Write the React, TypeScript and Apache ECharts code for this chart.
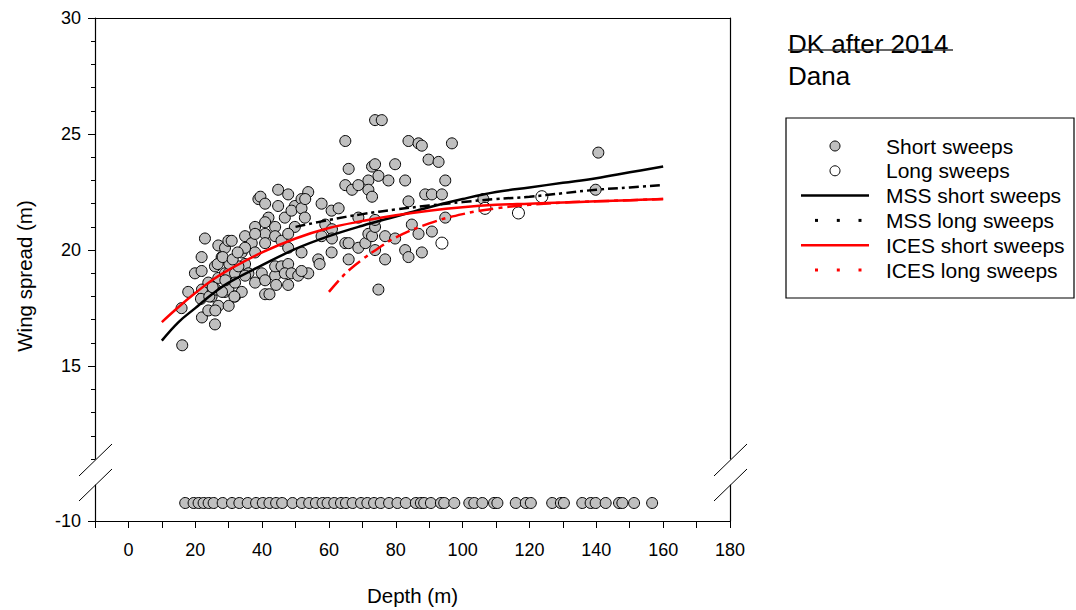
import React, { useEffect, useRef } from 'react';
import * as echarts from 'echarts';

const FONT = '"Liberation Sans", Arial, Helvetica, sans-serif';

// Tick labels
const xTickLabels = [0, 20, 40, 60, 80, 100, 120, 140, 160, 180];
const yMajorTicks = [15, 20, 25, 30];
const yLowerTicks = [-10];

// Short sweeps: [depth (m), wing spread (m)]
const shortSweeps: [number, number][] = [
  [16.1, 15.9], [15.9, 17.5], [17.9, 18.2], [19.9, 19.0], [21.9, 19.1], [21.9, 19.7], [22.9, 20.5],
  [22.0, 17.1], [23.9, 17.4], [25.9, 16.8], [26.9, 17.6], [30.0, 17.6], [26.0, 17.4], [22.0, 18.3],
  [23.9, 18.6], [24.9, 18.0], [25.9, 19.3], [26.9, 20.2], [27.9, 19.7], [28.9, 20.1], [29.9, 20.4],
  [30.9, 20.4], [28.9, 18.2], [29.9, 18.3], [31.9, 18.0], [33.9, 18.2], [26.9, 18.8], [28.9, 19.0],
  [30.0, 19.0], [31.9, 19.0], [33.9, 19.9], [34.9, 20.6], [36.9, 20.3], [37.9, 21.0], [38.9, 22.2],
  [39.5, 22.3], [40.9, 22.0], [44.8, 22.6], [44.8, 21.9], [47.8, 22.4], [49.8, 21.9], [51.8, 22.2],
  [53.8, 22.5], [57.8, 22.0], [60.8, 21.7], [41.9, 21.4], [40.9, 21.2], [43.9, 21.0], [46.8, 21.4],
  [48.8, 21.7], [51.8, 21.8], [52.8, 21.4], [49.8, 21.0], [40.9, 20.7], [43.9, 20.6], [40.9, 20.3],
  [45.8, 20.4], [47.8, 20.7], [47.8, 20.1], [37.9, 19.9], [34.9, 19.4], [35.9, 19.0], [37.9, 18.6],
  [39.9, 19.0], [40.9, 18.7], [43.9, 18.9], [43.9, 19.3], [45.8, 19.3], [47.8, 19.4], [46.8, 19.0],
  [48.8, 19.0], [50.8, 18.9], [53.8, 19.0], [51.8, 19.1], [40.9, 18.1], [47.8, 18.5], [44.2, 18.5],
  [51.8, 19.9], [56.8, 19.6], [57.2, 19.4], [60.8, 19.9], [57.8, 20.6], [34.9, 18.9], [32.9, 19.3],
  [31.9, 18.6], [37.9, 20.7], [34.9, 20.1], [21.7, 17.9], [24.2, 18.0], [26.2, 18.3], [28.0, 18.2],
  [31.7, 18.0], [25.2, 18.4], [29.0, 18.7], [30.2, 19.4], [26.7, 19.4], [28.2, 19.7], [31.2, 19.6],
  [32.7, 19.9], [52.9, 22.2], [62.9, 21.8], [58.9, 21.1], [60.9, 20.9], [60.9, 20.5], [42.2, 18.1],
  [64.9, 24.7], [65.9, 23.5], [72.9, 23.6], [73.8, 23.7], [74.8, 23.2], [71.8, 23.0], [77.8, 23.0],
  [79.8, 23.7], [64.9, 22.8], [66.9, 22.6], [68.8, 22.8], [71.8, 22.6], [72.9, 22.3], [68.8, 21.4],
  [64.9, 20.3], [65.9, 20.3], [68.8, 20.1], [70.9, 20.3], [71.8, 20.7], [72.9, 20.6], [73.8, 21.0],
  [73.8, 21.3], [73.8, 20.0], [76.8, 20.6], [79.8, 20.5], [65.9, 19.6], [76.8, 19.6], [74.8, 18.3],
  [73.8, 25.6], [75.8, 25.6], [83.8, 24.7], [86.8, 24.6], [87.8, 24.5], [96.8, 24.6], [89.8, 23.9],
  [92.8, 23.8], [82.8, 23.0], [94.8, 23.0], [88.8, 22.4], [90.8, 22.4], [93.8, 22.4], [83.8, 22.1],
  [94.8, 21.4], [84.8, 21.1], [86.8, 20.7], [90.8, 20.8], [82.8, 20.0], [83.8, 19.7], [87.8, 19.9],
  [106.2, 22.2], [139.8, 22.6], [140.6, 24.2],
];

// Long sweeps: [depth (m), wing spread (m)]
const longSweeps: [number, number][] = [
  [93.8, 20.3], [106.7, 21.8], [116.7, 21.6], [123.7, 22.3],
];

// Tows with depth only (plotted in the lower, broken-axis strip)
const depthOnlyTows = [
  17.0, 19.5, 21.0, 22.5, 24.0, 25.5, 28.2, 31.0, 33.2, 35.7, 38.2, 40.2, 42.2, 44.2, 46.0, 49.1,
  51.9, 54.1, 56.1, 58.1, 59.6, 61.6, 63.6, 65.1, 67.1, 69.6, 71.5, 73.5, 75.5, 78.0, 80.5, 83.0,
  86.0, 87.5, 88.5, 90.5, 93.5, 94.5, 97.5, 102.0, 103.5, 105.9, 109.4, 110.4, 115.9, 118.9, 120.4,
  126.8, 129.4, 130.3, 135.8, 138.3, 139.8, 142.8, 146.8, 147.8, 151.3, 156.7,
];
const depthOnlyLevel = -9.25;

// Fitted curves
const shortCurveDepth = [10, 15, 20, 25, 30, 40, 50, 60, 70, 80, 90, 100, 110, 120, 130, 140, 150, 160];
const mssShortWing = [16.1, 16.9, 17.5, 18.1, 18.6, 19.35, 20.05, 20.6, 21.05, 21.45, 21.85, 22.2, 22.5, 22.7, 22.9, 23.1, 23.35, 23.6];
const icesShortWing = [16.9, 17.55, 18.15, 18.7, 19.15, 19.9, 20.5, 20.95, 21.25, 21.5, 21.7, 21.85, 21.95, 22.0, 22.05, 22.1, 22.15, 22.2];

const mssLongDepth = [50, 60, 70, 80, 90, 100, 110, 120, 130, 140, 150, 160];
const mssLongWing = [21.0, 21.3, 21.55, 21.75, 21.92, 22.07, 22.2, 22.3, 22.45, 22.6, 22.7, 22.8];

const icesLongDepth = [60, 65, 70, 75, 80, 90, 100, 110, 120, 130, 140, 150, 160];
const icesLongWing = [18.2, 19.0, 19.6, 20.1, 20.55, 21.15, 21.55, 21.8, 21.95, 22.05, 22.1, 22.15, 22.2];

const legendItems = [
  { label: 'Short sweeps', kind: 'dot', fill: '#c0c0c0', color: '#000' },
  { label: 'Long sweeps', kind: 'dot', fill: '#ffffff', color: '#000' },
  { label: 'MSS short sweeps', kind: 'line', color: '#000' },
  { label: 'MSS long sweeps', kind: 'dots', color: '#000' },
  { label: 'ICES short sweeps', kind: 'line', color: '#ff0000' },
  { label: 'ICES long sweeps', kind: 'dots', color: '#ff0000' },
];

const zip = (xs: number[], ys: number[]) => xs.map((x, i) => [x, ys[i]]);

export default function App() {
  const ref = useRef<HTMLDivElement>(null);

  useEffect(() => {
    if (!ref.current) return;
    const chart = echarts.init(ref.current, undefined, { renderer: 'svg' });
    const axisLineStyle = { color: '#000', width: 1.2 };

    const legendGraphics: any[] = [
      {
        type: 'rect',
        shape: { x: 786, y: 118, width: 288, height: 180 },
        style: { fill: '#fff', stroke: '#000', lineWidth: 1.2 },
      },
    ];
    legendItems.forEach((it, i) => {
      const cy = 146 + i * 24.8;
      if (it.kind === 'dot') {
        legendGraphics.push({
          type: 'circle',
          shape: { cx: 835, cy, r: 5 },
          style: { fill: it.fill, stroke: it.color, lineWidth: 1 },
        });
      } else if (it.kind === 'line') {
        legendGraphics.push({
          type: 'line',
          shape: { x1: 801, y1: cy, x2: 869, y2: cy },
          style: { stroke: it.color, lineWidth: 2.5 },
        });
      } else {
        [816.5, 838.3, 860].forEach((cx) => {
          legendGraphics.push({
            type: 'rect',
            shape: { x: cx - 1.5, y: cy - 1.5, width: 3, height: 3 },
            style: { fill: it.color },
          });
        });
      }
      legendGraphics.push({
        type: 'text',
        x: 886,
        y: cy,
        style: { text: it.label, fontSize: 21, fontFamily: FONT, fill: '#000', verticalAlign: 'middle', align: 'left' },
      });
    });

    const breakMarks = [
      [79, 476, 112, 444],
      [79, 501, 112, 469],
      [714, 476, 747, 444],
      [714, 501, 747, 469],
    ].map(([x1, y1, x2, y2]) => ({
      type: 'line',
      shape: { x1, y1, x2, y2 },
      style: { stroke: '#000', lineWidth: 1 },
    }));

    const option: any = {
      animation: false,
      backgroundColor: '#fff',
      textStyle: { fontFamily: FONT },
      grid: [
        { left: 95, top: 18, width: 635, height: 441 },
        { left: 95, top: 485, width: 635, height: 36 },
      ],
      xAxis: [
        {
          gridIndex: 0, type: 'value', position: 'top', min: -10, max: 180,
          axisLine: { show: true, onZero: false, lineStyle: axisLineStyle },
          axisTick: { show: false }, axisLabel: { show: false }, splitLine: { show: false },
        },
        {
          gridIndex: 1, type: 'value', position: 'bottom', min: -10, max: 180, interval: 10,
          axisLine: { show: true, onZero: false, lineStyle: axisLineStyle },
          axisTick: { show: true, length: 7, lineStyle: { color: '#000', width: 1 } },
          axisLabel: { customValues: xTickLabels, margin: 20, fontSize: 18, color: '#000', fontFamily: FONT },
          splitLine: { show: false },
          name: 'Depth (m)', nameLocation: 'middle', nameGap: 64,
          nameTextStyle: { fontSize: 20.5, color: '#000', fontFamily: FONT },
        },
      ],
      yAxis: [
        {
          gridIndex: 0, type: 'value', position: 'left', min: 11, max: 30, interval: 1,
          axisLine: { show: true, onZero: false, lineStyle: axisLineStyle },
          axisTick: { show: true, length: 4, lineStyle: { color: '#000', width: 1 } },
          axisLabel: { show: false }, splitLine: { show: false },
        },
        {
          gridIndex: 0, type: 'value', position: 'left', min: 11, max: 30,
          axisLine: { show: false, onZero: false },
          axisTick: { show: true, customValues: yMajorTicks, length: 7, lineStyle: { color: '#000', width: 1 } },
          axisLabel: { customValues: yMajorTicks, margin: 14, fontSize: 18, color: '#000', fontFamily: FONT },
          splitLine: { show: false },
        },
        {
          gridIndex: 0, type: 'value', position: 'right', min: 11, max: 30,
          axisLine: { show: true, onZero: false, lineStyle: axisLineStyle },
          axisTick: { show: false }, axisLabel: { show: false }, splitLine: { show: false },
        },
        {
          gridIndex: 1, type: 'value', position: 'left', min: -10, max: -8.5,
          axisLine: { show: true, onZero: false, lineStyle: axisLineStyle },
          axisTick: { show: true, customValues: yLowerTicks, length: 7, lineStyle: { color: '#000', width: 1 } },
          axisLabel: { customValues: yLowerTicks, margin: 14, fontSize: 18, color: '#000', fontFamily: FONT },
          splitLine: { show: false },
        },
        {
          gridIndex: 1, type: 'value', position: 'right', min: -10, max: -8.5,
          axisLine: { show: true, onZero: false, lineStyle: axisLineStyle },
          axisTick: { show: false }, axisLabel: { show: false }, splitLine: { show: false },
        },
      ],
      series: [
        {
          name: 'Short sweeps', type: 'scatter', xAxisIndex: 0, yAxisIndex: 0,
          data: shortSweeps, symbol: 'circle', symbolSize: 11,
          itemStyle: { color: '#c0c0c0', borderColor: '#000', borderWidth: 1, opacity: 1 },
        },
        {
          name: 'Long sweeps', type: 'scatter', xAxisIndex: 0, yAxisIndex: 0,
          data: longSweeps, symbol: 'circle', symbolSize: 12,
          itemStyle: { color: '#ffffff', borderColor: '#000', borderWidth: 1, opacity: 1 },
        },
        {
          name: 'Depth only', type: 'scatter', xAxisIndex: 1, yAxisIndex: 3,
          data: depthOnlyTows.map((d) => [d, depthOnlyLevel]), symbol: 'circle', symbolSize: 11,
          itemStyle: { color: '#c0c0c0', borderColor: '#000', borderWidth: 1, opacity: 1 },
        },
        {
          name: 'MSS short sweeps', type: 'line', xAxisIndex: 0, yAxisIndex: 0,
          data: zip(shortCurveDepth, mssShortWing), showSymbol: false, smooth: 0.4,
          lineStyle: { color: '#000', width: 2.5 },
        },
        {
          name: 'MSS long sweeps', type: 'line', xAxisIndex: 0, yAxisIndex: 0,
          data: zip(mssLongDepth, mssLongWing), showSymbol: false, smooth: 0.4,
          lineStyle: { color: '#000', width: 2.5, type: [10, 4, 3, 4] },
        },
        {
          name: 'ICES short sweeps', type: 'line', xAxisIndex: 0, yAxisIndex: 0,
          data: zip(shortCurveDepth, icesShortWing), showSymbol: false, smooth: 0.4,
          lineStyle: { color: '#ff0000', width: 2.5 },
        },
        {
          name: 'ICES long sweeps', type: 'line', xAxisIndex: 0, yAxisIndex: 0,
          data: zip(icesLongDepth, icesLongWing), showSymbol: false, smooth: 0.4,
          lineStyle: { color: '#ff0000', width: 2.5, type: [15, 5, 4, 5] },
        },
      ],
      graphic: [
        ...breakMarks,
        {
          type: 'text', x: 24, y: 276, rotation: Math.PI / 2,
          style: { text: 'Wing spread (m)', fontSize: 20.5, fontFamily: FONT, fill: '#000', align: 'center', verticalAlign: 'middle' },
        },
        {
          type: 'text', x: 788, y: 44,
          style: { text: 'DK after 2014', fontSize: 26, fontFamily: FONT, fill: '#000', align: 'left', verticalAlign: 'middle' },
        },
        {
          type: 'line', shape: { x1: 788, y1: 50, x2: 953, y2: 50 },
          style: { stroke: '#333', lineWidth: 1.5 },
        },
        {
          type: 'text', x: 788, y: 76,
          style: { text: 'Dana', fontSize: 26, fontFamily: FONT, fill: '#000', align: 'left', verticalAlign: 'middle' },
        },
        ...legendGraphics,
      ],
    };

    chart.setOption(option);
    return () => chart.dispose();
  }, []);

  return (
    <div
      ref={ref}
      style={{ position: 'fixed', left: 0, top: 0, width: 1076, height: 610, background: '#fff' }}
    />
  );
}
